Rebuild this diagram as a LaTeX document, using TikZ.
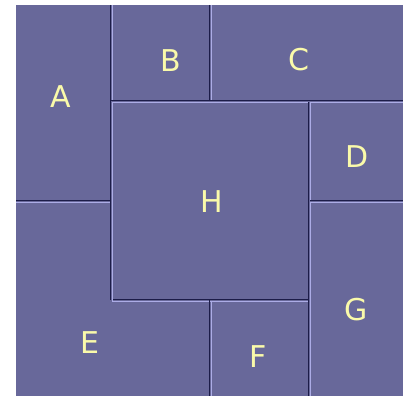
\documentclass[tikz,border=0pt]{standalone}
\usepackage{fontspec}
\setsansfont{DejaVu Sans}
\definecolor{tilefill}{RGB}{104,104,154}
\definecolor{edgedark}{RGB}{28,28,72}
\definecolor{edgelight}{RGB}{172,172,230}
\definecolor{letter}{RGB}{250,250,170}
\begin{document}
\begin{tikzpicture}[x=1pt,y=-1pt,
  dark/.style={draw=edgedark,line width=1.8pt},
  light/.style={draw=edgelight,line width=1.4pt},
  tilelabel/.style={text=letter,inner sep=0pt,font=\sffamily\fontsize{30}{30}\selectfont}]
\useasboundingbox (0,0) rectangle (412,396);
\fill[tilefill] (16,5) rectangle (403,396);

% dark edges, bottom and right of each tile
\draw[dark] (110.5,5) -- (110.5,200.5);
\draw[dark] (16,200.5) -- (110.5,200.5);
\draw[dark] (209.5,5) -- (209.5,100.5);
\draw[dark] (111,100.5) -- (209.5,100.5);
\draw[dark] (210,100.5) -- (403,100.5);
\draw[dark] (310,200.5) -- (403,200.5);
\draw[dark] (308.5,102) -- (308.5,299.5);
\draw[dark] (112,299.5) -- (308.5,299.5);
\draw[dark] (110.5,201) -- (110.5,299.5);
\draw[dark] (209.5,300) -- (209.5,396);
\draw[dark] (308.5,300) -- (308.5,396);

% light edges, top and left of each tile
\draw[light] (112.5,5) -- (112.5,100);
\draw[light] (211.5,5) -- (211.5,100);
\draw[light] (112,102.5) -- (308,102.5);
\draw[light] (112.5,102) -- (112.5,301.5);
\draw[light] (310,102.5) -- (403,102.5);
\draw[light] (310.5,102) -- (310.5,200);
\draw[light] (16,202.5) -- (110,202.5);
\draw[light] (112,301.5) -- (209,301.5);
\draw[light] (210,301.5) -- (308,301.5);
\draw[light] (211.5,301) -- (211.5,396);
\draw[light] (310,202.5) -- (403,202.5);
\draw[light] (310.5,202) -- (310.5,396);

\node[tilelabel] (lblA) at (61,97) {A};
\node[tilelabel] (lblB) at (171,61) {B};
\node[tilelabel] (lblC) at (299,60) {C};
\node[tilelabel] (lblD) at (357,157) {D};
\node[tilelabel] (lblH) at (212,202) {H};
\node[tilelabel] (lblE) at (90,343) {E};
\node[tilelabel] (lblF) at (258,357) {F};
\node[tilelabel] (lblG) at (356,310) {G};
\end{tikzpicture}
\end{document}
